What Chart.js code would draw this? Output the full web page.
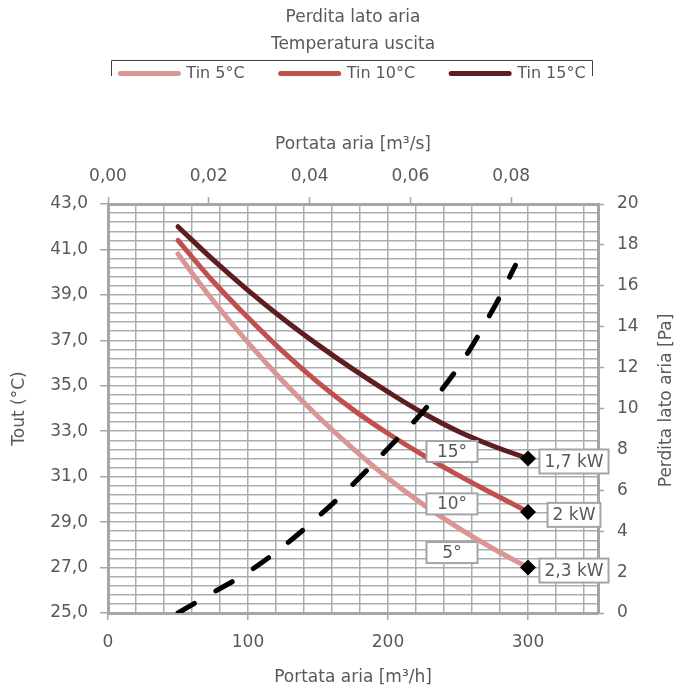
<!DOCTYPE html>
<html>
<head>
<meta charset="utf-8">
<script src="https://cdn.jsdelivr.net/npm/chart.js@4.4.1/dist/chart.umd.min.js"></script>
<style>
    html, body { margin: 0; padding: 0; background: #ffffff; }
    #contenitore { width: 680px; height: 693px; }
</style>
</head>
<body>
<div id="contenitore"><canvas id="grafico" width="680" height="693"></canvas></div>
<script>
// portata aria [m3/h] per le curve di temperatura
var portataCurve = [50, 75, 100, 125, 150, 175, 200, 225, 250, 275, 300];
var tin5 = [40.8, 38.75, 36.9, 35.2, 33.65, 32.23, 30.93, 29.78, 28.76, 27.84, 27.0];
var tin10 = [41.4, 39.6, 38.0, 36.5, 35.15, 33.95, 32.9, 31.95, 31.07, 30.25, 29.45];
var tin15 = [42.0, 40.55, 39.2, 37.95, 36.8, 35.73, 34.73, 33.8, 33.0, 32.35, 31.8];

// perdita lato aria [Pa]
var portataPerdita = [50, 75, 100, 125, 150, 175, 200, 225, 250, 275, 291];
var perdita = [0, 1.0, 2.0, 3.25, 4.7, 6.3, 8.05, 9.85, 12.0, 14.85, 17.0];

// etichette
var legenda = ['Tin 5°C', 'Tin 10°C', 'Tin 15°C'];
var potenze = ['2,3 kW', '2 kW', '1,7 kW'];
var gradi = ['5°', '10°', '15°'];
var etichetteTout = [25, 27, 29, 31, 33, 35, 37, 39, 41, 43];
var etichettePortata = [0, 100, 200, 300];
var etichettePortataS = [0, 0.02, 0.04, 0.06, 0.08];
var etichettePerdita = [0, 2, 4, 6, 8, 10, 12, 14, 16, 18, 20];
var titoloPerdita = 'Perdita lato aria [Pa]';

var grigio = '#595959';
var griglia = '#A9ADB0';
var bordo = '#A3A7AA';
var trasparente = 'rgba(0,0,0,0)';
var padSinistra = 26;

Chart.defaults.font.family = '"DejaVu Sans", sans-serif';
Chart.defaults.font.size = 17;
Chart.defaults.color = grigio;

function serie(xs, ys) {
    return xs.map(function (x, i) { return { x: x, y: ys[i] }; });
}
function inLista(v, lista) {
    return lista.some(function (l) { return Math.abs(l - v) < 1e-6; });
}
function virgola(v, dec) {
    return v.toFixed(dec).replace('.', ',');
}
function diamanteFinale(ctx) {
    return ctx.dataIndex === ctx.dataset.data.length - 1 ? 8 : 0;
}
function curva(etichetta, dati, colore) {
    return {
        label: etichetta,
        data: serie(portataCurve, dati),
        borderColor: colore,
        backgroundColor: colore,
        borderWidth: 5,
        borderCapStyle: 'round',
        tension: 0.4,
        pointStyle: 'rectRot',
        pointRadius: diamanteFinale,
        pointBackgroundColor: '#000000',
        pointBorderColor: '#000000',
        pointBorderWidth: 0,
        order: 1
    };
}

// caselle con bordo grigio per le etichette dei punti
function casella(ctx, testo, cx, cy, larghezza, altezza) {
    var w = larghezza || ctx.measureText(testo).width + 10;
    ctx.fillStyle = '#ffffff';
    ctx.fillRect(cx - w / 2, cy - altezza / 2, w, altezza);
    ctx.strokeStyle = '#A5A5A5';
    ctx.lineWidth = 2;
    ctx.strokeRect(cx - w / 2, cy - altezza / 2, w, altezza);
    ctx.fillStyle = grigio;
    ctx.fillText(testo, cx, cy + 1);
}

var etichettePlugin = {
    id: 'etichette',
    afterDatasetsDraw: function (chart) {
        var ctx = chart.ctx;
        var spostGradi = [-15, -8, -7];
        ctx.save();
        ctx.font = '17px "DejaVu Sans", sans-serif';
        ctx.textAlign = 'center';
        ctx.textBaseline = 'middle';
        for (var i = 0; i < 3; i++) {
            var meta = chart.getDatasetMeta(i);
            var p = meta.data[meta.data.length - 1];
            casella(ctx, potenze[i], p.x + 46, p.y + 3, null, 24);
            casella(ctx, gradi[i], p.x - 76, p.y + spostGradi[i], 51, 21);
        }
        ctx.restore();
    }
};

// linea sopra la legenda e titolo dell'asse destro (letto dal basso verso l'alto)
var decoriPlugin = {
    id: 'decori',
    afterDraw: function (chart) {
        var ctx = chart.ctx;
        ctx.save();
        ctx.strokeStyle = '#404040';
        ctx.lineWidth = 1;
        ctx.beginPath();
        ctx.moveTo(111.5, 76);
        ctx.lineTo(111.5, 60.5);
        ctx.lineTo(592.5, 60.5);
        ctx.lineTo(592.5, 76);
        ctx.stroke();

        var asse = chart.scales.y2;
        ctx.translate(asse.right - 13, (chart.chartArea.top + chart.chartArea.bottom) / 2 - 8);
        ctx.rotate(-Math.PI / 2);
        ctx.font = '17px "DejaVu Sans", sans-serif';
        ctx.fillStyle = grigio;
        ctx.textAlign = 'center';
        ctx.textBaseline = 'middle';
        ctx.fillText(titoloPerdita, 0, 0);
        ctx.restore();
    }
};

var datasets = [
    curva(legenda[0], tin5, '#D99694'),
    curva(legenda[1], tin10, '#C0504D'),
    curva(legenda[2], tin15, '#5E1D20'),
    {
        label: 'Perdita lato aria',
        data: serie(portataPerdita, perdita),
        yAxisID: 'y2',
        borderColor: '#000000',
        borderWidth: 5,
        borderDash: [19, 24.6],
        borderCapStyle: 'round',
        tension: 0.4,
        pointRadius: 0,
        order: 0
    }
];

var opzioni = {
    responsive: false,
    animation: false,
    devicePixelRatio: 1,
    layout: { padding: { left: padSinistra, right: 0, top: 0, bottom: 0 } },
    plugins: {
        tooltip: { enabled: false },
        title: {
            display: true,
            text: ['Perdita lato aria', 'Temperatura uscita'],
            color: grigio,
            font: { size: 17, weight: 'normal', lineHeight: 1.6 },
            padding: { top: 3.5, bottom: -28.5 }
        },
        legend: {
            display: true,
            position: 'top',
            labels: {
                usePointStyle: true,
                pointStyle: 'line',
                pointStyleWidth: 58,
                padding: 36,
                color: grigio,
                font: { size: 16 },
                generateLabels: function (chart) {
                    var voci = Chart.defaults.plugins.legend.labels.generateLabels(chart);
                    voci.forEach(function (v) {
                        var ds = chart.data.datasets[v.datasetIndex];
                        v.strokeStyle = ds.borderColor;
                        v.fillStyle = ds.borderColor;
                        v.lineWidth = ds.borderWidth;
                        v.lineCap = 'round';
                        v.lineDash = [];
                        v.pointStyle = 'line';
                    });
                    return voci;
                },
                filter: function (item) { return item.datasetIndex < 3; }
            }
        }
    },
    scales: {
        x: {
            type: 'linear',
            position: 'bottom',
            min: 0,
            max: 350,
            afterBuildTicks: function (s) {
                var t = [];
                for (var v = 0; v <= 340; v += 20) t.push({ value: v });
                t.push({ value: 350 });
                s.ticks = t;
            },
            ticks: {
                autoSkip: false,
                maxRotation: 0,
                padding: 12,
                callback: function (v) { return inLista(v, etichettePortata) ? String(v) : ''; }
            },
            grid: {
                color: griglia,
                lineWidth: 1.5,
                tickLength: 7,
                tickWidth: 1.5,
                tickColor: function (c) { return c.tick && inLista(c.tick.value, etichettePortata) ? bordo : trasparente; }
            },
            border: { color: bordo, width: 3 },
            title: { display: true, text: 'Portata aria [m³/h]', color: grigio, padding: { top: 0, bottom: 5 } },
            afterFit: function (s) { s.height = 80; }
        },
        x2: {
            type: 'linear',
            position: 'top',
            min: 0,
            max: 350 / 3600,
            afterBuildTicks: function (s) {
                s.ticks = etichettePortataS.map(function (v) { return { value: v }; });
            },
            ticks: {
                autoSkip: false,
                maxRotation: 0,
                padding: 10,
                callback: function (v) { return virgola(v, 2); }
            },
            grid: { drawOnChartArea: false, tickLength: 7, tickWidth: 1.5, tickColor: bordo },
            border: { color: bordo, width: 3 },
            title: { display: true, text: 'Portata aria [m³/s]', color: grigio, padding: { top: 43.4, bottom: 0 } },
            afterFit: function (s) { s.height = 112.6; }
        },
        y: {
            type: 'linear',
            position: 'left',
            min: 25,
            max: 43,
            afterBuildTicks: function (s) {
                var t = [];
                for (var k = 0; k <= 45; k++) t.push({ value: Math.round((25 + k * 0.4) * 10) / 10 });
                s.ticks = t;
            },
            ticks: {
                autoSkip: false,
                padding: 12,
                callback: function (v) { return inLista(v, etichetteTout) ? virgola(v, 1) : ''; }
            },
            grid: {
                color: griglia,
                lineWidth: 1.5,
                tickLength: 8,
                tickWidth: 1.5,
                tickColor: function (c) { return c.tick && inLista(c.tick.value, etichetteTout) ? bordo : trasparente; }
            },
            border: { color: bordo, width: 3 },
            title: { display: true, text: 'Tout (°C)', color: grigio, padding: { top: 20 - padSinistra - 10.2, bottom: 0 } },
            afterFit: function (s) { s.width = 108 - padSinistra; }
        },
        y2: {
            type: 'linear',
            position: 'right',
            min: 0,
            max: 20,
            afterBuildTicks: function (s) {
                s.ticks = etichettePerdita.map(function (v) { return { value: v }; });
            },
            ticks: {
                autoSkip: false,
                padding: 13,
                callback: function (v) { return String(v); }
            },
            grid: { drawOnChartArea: false, tickLength: 6, tickWidth: 1.5, tickColor: bordo },
            border: { color: bordo, width: 3 },
            title: { display: false },
            afterFit: function (s) { s.width = 82; }
        }
    }
};

var grafico = new Chart(document.getElementById('grafico').getContext('2d'), {
    type: 'line',
    data: { datasets: datasets },
    options: opzioni,
    plugins: [etichettePlugin, decoriPlugin]
});
</script>
</body>
</html>
